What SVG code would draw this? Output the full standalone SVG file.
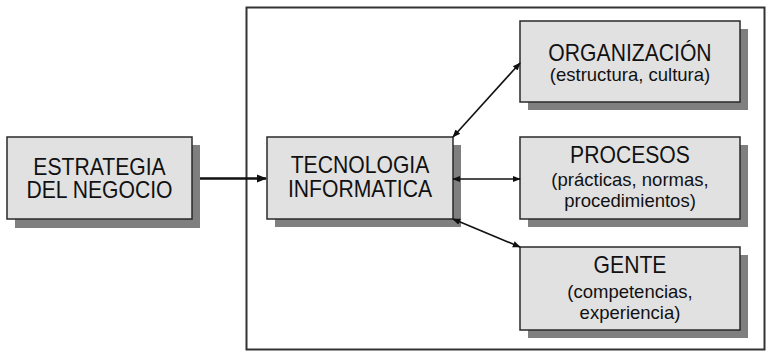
<svg xmlns="http://www.w3.org/2000/svg" width="768" height="356" viewBox="0 0 768 356">
  <style>
    .box { fill: #e1e1e1; stroke: #2a2a2a; stroke-width: 1.5; }
    .shadow { fill: #7f7f7f; }
    .t { font-family: "Liberation Sans", Arial, sans-serif; fill: #111; text-anchor: middle; }
    .title { font-size: 23px; }
    .sub { font-size: 18.5px; }
    .link { stroke: #111; stroke-width: 1.6; fill: none; }
  </style>
  <defs>
    <marker id="ah" viewBox="0 0 10 10" refX="9" refY="5" markerWidth="8" markerHeight="8" markerUnits="userSpaceOnUse" orient="auto-start-reverse">
      <path d="M0,1 L10,5 L0,9 Z" fill="#111"/>
    </marker>
    <marker id="ahBig" viewBox="0 0 10 10" refX="9" refY="5" markerWidth="10" markerHeight="10" markerUnits="userSpaceOnUse" orient="auto">
      <path d="M0,1 L10,5 L0,9 Z" fill="#111"/>
    </marker>
  </defs>

  <rect width="768" height="356" fill="#ffffff"/>

  <!-- frame around the technology block -->
  <g id="frame">
    <rect x="246.5" y="7.5" width="518" height="342" fill="#ffffff" stroke="#333" stroke-width="2"/>
  </g>

  <g id="estrategia">
    <rect class="shadow" x="15" y="145" width="185" height="83"/>
    <rect class="box" x="7" y="137" width="185" height="82"/>
    <text class="t title" transform="translate(99.5,175) scale(0.92,1)">ESTRATEGIA</text>
    <text class="t title" transform="translate(99.5,198) scale(0.92,1)">DEL NEGOCIO</text>
  </g>

  <g id="tecnologia">
    <rect class="shadow" x="275" y="145" width="186" height="82"/>
    <rect class="box" x="267" y="137" width="186" height="82"/>
    <text class="t title" transform="translate(360,173) scale(0.92,1)">TECNOLOGIA</text>
    <text class="t title" transform="translate(360,197) scale(0.92,1)">INFORMATICA</text>
  </g>

  <g id="organizacion">
    <rect class="shadow" x="528" y="29" width="220" height="81"/>
    <rect class="box" x="520" y="21" width="220" height="81"/>
    <text class="t title" transform="translate(630,61) scale(0.92,1)">ORGANIZACIÓN</text>
    <text class="t sub" x="630" y="81">(estructura, cultura)</text>
  </g>

  <g id="procesos">
    <rect class="shadow" x="528" y="145" width="220" height="82"/>
    <rect class="box" x="520" y="137" width="220" height="82"/>
    <text class="t title" transform="translate(630,163) scale(0.92,1)">PROCESOS</text>
    <text class="t sub" x="630" y="186">(prácticas, normas,</text>
    <text class="t sub" x="630" y="207">procedimientos)</text>
  </g>

  <g id="gente">
    <rect class="shadow" x="528" y="255" width="220" height="83"/>
    <rect class="box" x="520" y="247" width="220" height="83"/>
    <text class="t title" transform="translate(630,273) scale(0.92,1)">GENTE</text>
    <text class="t sub" x="630" y="298">(competencias,</text>
    <text class="t sub" x="630" y="319">experiencia)</text>
  </g>

  <g id="connectors">
    <line x1="200" y1="178.5" x2="266" y2="178.5" stroke="#111" stroke-width="2.6" marker-end="url(#ahBig)"/>
    <line class="link" x1="453" y1="137" x2="520" y2="63" marker-start="url(#ah)" marker-end="url(#ah)"/>
    <line class="link" x1="453" y1="179" x2="520" y2="179" marker-start="url(#ah)" marker-end="url(#ah)"/>
    <line class="link" x1="453" y1="219" x2="520" y2="247" marker-start="url(#ah)" marker-end="url(#ah)"/>
  </g>
</svg>
